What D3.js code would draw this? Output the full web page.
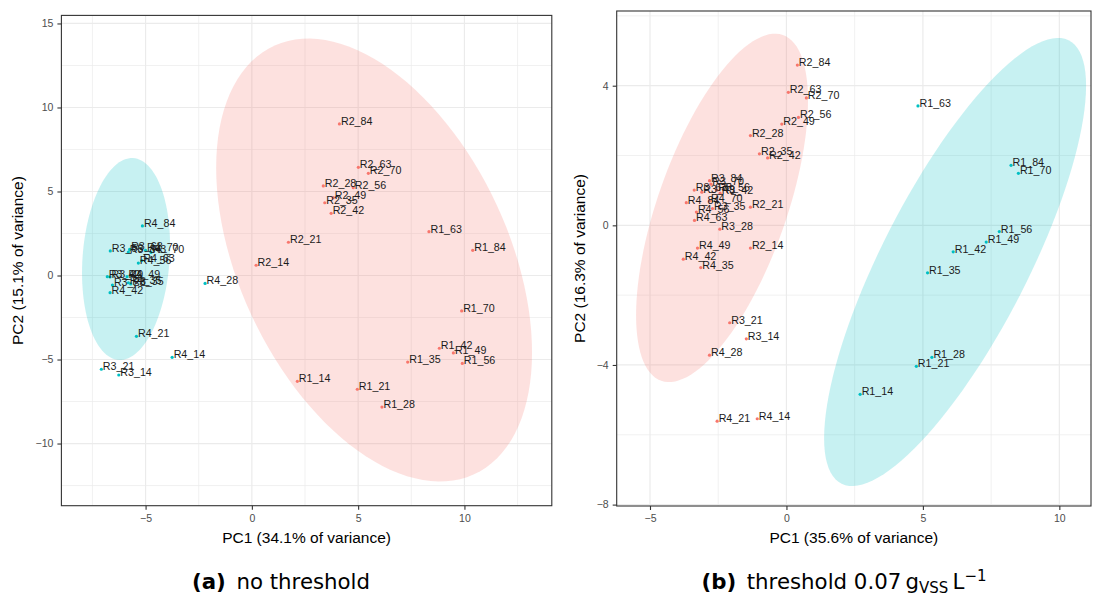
<!DOCTYPE html>
<html>
<head>
<meta charset="utf-8">
<script src="https://cdn.jsdelivr.net/npm/d3@7"></script>
<style>
  body { margin: 0; background: #fff; }
  svg { display: block; }
</style>
</head>
<body>
<div id="chart"></div>
<script>
// ---- panel (a): no threshold ----
const aLabels = ["R1_14","R1_21","R1_28","R1_35","R1_42","R1_49","R1_56","R1_63","R1_70","R1_84",
  "R2_14","R2_21","R2_28","R2_35","R2_42","R2_49","R2_56","R2_63","R2_70","R2_84",
  "R3_14","R3_21","R3_28","R3_35","R3_42","R3_49","R3_56","R3_63","R3_70","R3_84",
  "R4_14","R4_21","R4_28","R4_35","R4_42","R4_49","R4_56","R4_63","R4_70","R4_84"];
const aPC1 = [2.14,4.96,6.12,7.33,8.82,9.48,9.90,8.33,9.87,10.39,
  0.20,1.72,3.36,3.43,3.73,3.83,4.77,5.01,5.48,4.12,
  -6.26,-7.08,-6.56,-5.70,-6.80,-6.67,-6.66,-5.75,-4.74,-5.81,
  -3.75,-5.43,-2.20,-5.81,-6.67,-5.87,-5.34,-5.18,-5.00,-5.15];
const aPC2 = [-6.30,-6.77,-7.83,-5.15,-4.33,-4.61,-5.23,2.61,-2.11,1.50,
  0.61,1.98,5.33,4.33,3.70,4.63,5.23,6.44,6.08,9.02,
  -5.92,-5.58,-0.57,-0.50,-0.07,-0.09,1.46,1.55,1.38,1.40,
  -4.87,-3.62,-0.47,-0.43,-1.02,-0.07,0.74,0.88,1.50,2.95];
const aCluster = [1,1,1,1,1,1,1,1,1,1, 1,1,1,1,1,1,1,1,1,1,
  2,2,2,2,2,2,2,2,2,2, 2,2,2,2,2,2,2,2,2,2];
// ellipse per cluster: [centre PC1, centre PC2, half-width, half-height, correlation]
const aEllipses = [[5.75, 0.92, 7.43, 13.18, -0.417], [-5.92, 0.98, 2.07, 6.01, 0.136]];
const aXTicks = [-5, 0, 5, 10];
const aXMinor = [-7.5, -2.5, 2.5, 7.5, 12.5];
const aYTicks = [-10, -5, 0, 5, 10, 15];
const aYMinor = [-12.5, -7.5, -2.5, 2.5, 7.5, 12.5];

// ---- panel (b): threshold 0.07 gVSS/L ----
const bLabels = aLabels;
const bPC1 = [2.70,4.76,5.33,5.17,6.11,7.32,7.80,4.82,8.50,8.23,
  -1.32,-1.32,-1.32,-0.99,-0.69,-0.17,0.44,0.07,0.73,0.40,
  -1.47,-2.08,-2.44,-2.71,-2.43,-3.10,-2.55,-3.38,-2.77,-2.82,
  -1.07,-2.54,-2.82,-3.14,-3.78,-3.26,-3.30,-3.37,-2.82,-3.67];
const bPC2 = [-4.84,-4.04,-3.78,-1.36,-0.76,-0.48,-0.18,3.42,1.49,1.72,
  -0.65,0.52,2.57,2.05,1.93,2.90,3.09,3.81,3.65,4.59,
  -3.25,-2.79,-0.11,0.48,0.92,0.95,1.01,1.01,1.18,1.28,
  -5.54,-5.61,-3.72,-1.21,-0.97,-0.65,0.38,0.14,0.70,0.65];
const bCluster = [2,2,2,2,2,2,2,2,2,2, 1,1,1,1,1,1,1,1,1,1,
  1,1,1,1,1,1,1,1,1,1, 1,1,1,1,1,1,1,1,1,1];
const bEllipses = [[-2.36, 0.50, 3.15, 4.99, 0.616], [6.18, -1.05, 4.80, 6.42, 0.786]];
const bXTicks = [-5, 0, 5, 10];
const bXMinor = [-7.5, -2.5, 2.5, 7.5, 12.5];
const bYTicks = [-8, -4, 0, 4];
const bYMinor = [-6, -2, 2, 6];

const colors = { 1: "#F8766D", 2: "#00BFC4" };
const fontAxis = "'Liberation Sans', Arial, Helvetica, sans-serif";

const svg = d3.select("#chart").append("svg")
  .attr("width", 1102).attr("height", 601);
svg.append("rect").attr("width", 1102).attr("height", 601).attr("fill", "#fff");

function drawPanel(p) {
  const x = d3.scaleLinear().domain(p.xDomain).range([p.left, p.right]);
  const y = d3.scaleLinear().domain(p.yDomain).range([p.bottom, p.top]);
  const g = svg.append("g");

  // grid
  const inX = (v) => v > p.xDomain[0] && v < p.xDomain[1];
  const inY = (v) => v > p.yDomain[0] && v < p.yDomain[1];
  g.selectAll(".gxm").data(p.xMinor.filter(inX)).join("line")
    .attr("x1", d => x(d)).attr("x2", d => x(d)).attr("y1", p.top).attr("y2", p.bottom)
    .attr("stroke", "#EBEBEB").attr("stroke-width", 0.7);
  g.selectAll(".gym").data(p.yMinor.filter(inY)).join("line")
    .attr("y1", d => y(d)).attr("y2", d => y(d)).attr("x1", p.left).attr("x2", p.right)
    .attr("stroke", "#EBEBEB").attr("stroke-width", 0.7);
  g.append("g").selectAll("line").data(p.xTicks).join("line")
    .attr("x1", d => x(d)).attr("x2", d => x(d)).attr("y1", p.top).attr("y2", p.bottom)
    .attr("stroke", "#EBEBEB").attr("stroke-width", 1.2);
  g.append("g").selectAll("line").data(p.yTicks).join("line")
    .attr("y1", d => y(d)).attr("y2", d => y(d)).attr("x1", p.left).attr("x2", p.right)
    .attr("stroke", "#EBEBEB").attr("stroke-width", 1.2);

  // ellipses
  const ts = d3.range(0, 361, 3).map(a => a * Math.PI / 180);
  const line = d3.line().x(d => x(d[0])).y(d => y(d[1]));
  p.ellipses.forEach((e, i) => {
    const [cx, cy, sx, sy, r] = e;
    const pts = ts.map(t => [cx + sx * Math.cos(t),
      cy + sy * (r * Math.cos(t) + Math.sqrt(1 - r * r) * Math.sin(t))]);
    g.append("path").attr("d", line(pts) + "Z")
      .attr("fill", colors[i + 1]).attr("fill-opacity", 0.22).attr("stroke", "none");
  });

  // points + labels
  const pts = p.labels.map((l, i) => ({ l, a: p.pc1[i], b: p.pc2[i], c: p.cluster[i] }));
  g.append("g").selectAll("circle").data(pts).join("circle")
    .attr("cx", d => x(d.a)).attr("cy", d => y(d.b)).attr("r", 1.6)
    .attr("fill", d => colors[d.c]);
  g.append("g").selectAll("text").data(pts).join("text")
    .attr("x", d => x(d.a) + 1.5).attr("y", d => y(d.b) + 1)
    .attr("font-family", fontAxis).attr("font-size", 10.7).attr("fill", "#1a1a1a")
    .text(d => d.l);

  // border
  g.append("rect").attr("x", p.left).attr("y", p.top)
    .attr("width", p.right - p.left).attr("height", p.bottom - p.top)
    .attr("fill", "none").attr("stroke", "#333333").attr("stroke-width", 1.1);

  // axes
  const fmt = d3.format("d");
  const ax = g.append("g").attr("transform", `translate(0,${p.bottom})`)
    .call(d3.axisBottom(x).tickValues(p.xTicks).tickFormat(fmt).tickSize(4).tickPadding(5));
  const ay = g.append("g").attr("transform", `translate(${p.left},0)`)
    .call(d3.axisLeft(y).tickValues(p.yTicks).tickFormat(fmt).tickSize(4).tickPadding(4));
  [ax, ay].forEach(a => {
    a.select(".domain").remove();
    a.selectAll(".tick line").attr("stroke", "#333333").attr("stroke-width", 1.1);
    a.selectAll(".tick text").attr("fill", "#4D4D4D")
      .attr("font-family", fontAxis).attr("font-size", 10.5);
  });

  // titles
  g.append("text").attr("x", (p.left + p.right) / 2).attr("y", p.bottom + 37)
    .attr("text-anchor", "middle").attr("font-family", fontAxis).attr("font-size", 15.5)
    .attr("fill", "#000").text(p.xTitle);
  g.append("text")
    .attr("transform", `translate(${p.yTitleX},${(p.top + p.bottom) / 2}) rotate(-90)`)
    .attr("text-anchor", "middle").attr("dy", "0.35em")
    .attr("font-family", fontAxis).attr("font-size", 15.5)
    .attr("fill", "#000").text(p.yTitle);
}

drawPanel({
  left: 61.4, right: 551.8, top: 15.4, bottom: 505.7,
  xDomain: [-8.96, 14.11], yDomain: [-13.70, 15.48],
  xTicks: aXTicks, xMinor: aXMinor, yTicks: aYTicks, yMinor: aYMinor,
  labels: aLabels, pc1: aPC1, pc2: aPC2, cluster: aCluster, ellipses: aEllipses,
  xTitle: "PC1 (34.1% of variance)", yTitle: "PC2 (15.1% of variance)", yTitleX: 18
});

drawPanel({
  left: 616.7, right: 1091, top: 11, bottom: 506,
  xDomain: [-6.22, 11.16], yDomain: [-8.04, 6.14],
  xTicks: bXTicks, xMinor: bXMinor, yTicks: bYTicks, yMinor: bYMinor,
  labels: bLabels, pc1: bPC1, pc2: bPC2, cluster: bCluster, ellipses: bEllipses,
  xTitle: "PC1 (35.6% of variance)", yTitle: "PC2 (16.3% of variance)", yTitleX: 580
});

// captions
const fontCap = "'DejaVu Sans', sans-serif";
const capA = svg.append("text").attr("x", 281).attr("y", 589).attr("text-anchor", "middle")
  .attr("font-family", fontCap).attr("font-size", 21.3).attr("fill", "#000");
capA.append("tspan").attr("font-weight", "bold").text("(a)");
capA.append("tspan").text("\u2002no threshold");

const capB = svg.append("text").attr("x", 844).attr("y", 589).attr("text-anchor", "middle")
  .attr("font-family", fontCap).attr("font-size", 21.3).attr("fill", "#000");
capB.append("tspan").attr("font-weight", "bold").text("(b)");
capB.append("tspan").text("\u2002threshold 0.07\u2009g");
capB.append("tspan").attr("font-size", 15).attr("dy", 4).text("VSS");
capB.append("tspan").attr("dy", -4).text("\u2009L");
capB.append("tspan").attr("font-size", 15).attr("dy", -8).text("\u22121");
</script>
</body>
</html>
